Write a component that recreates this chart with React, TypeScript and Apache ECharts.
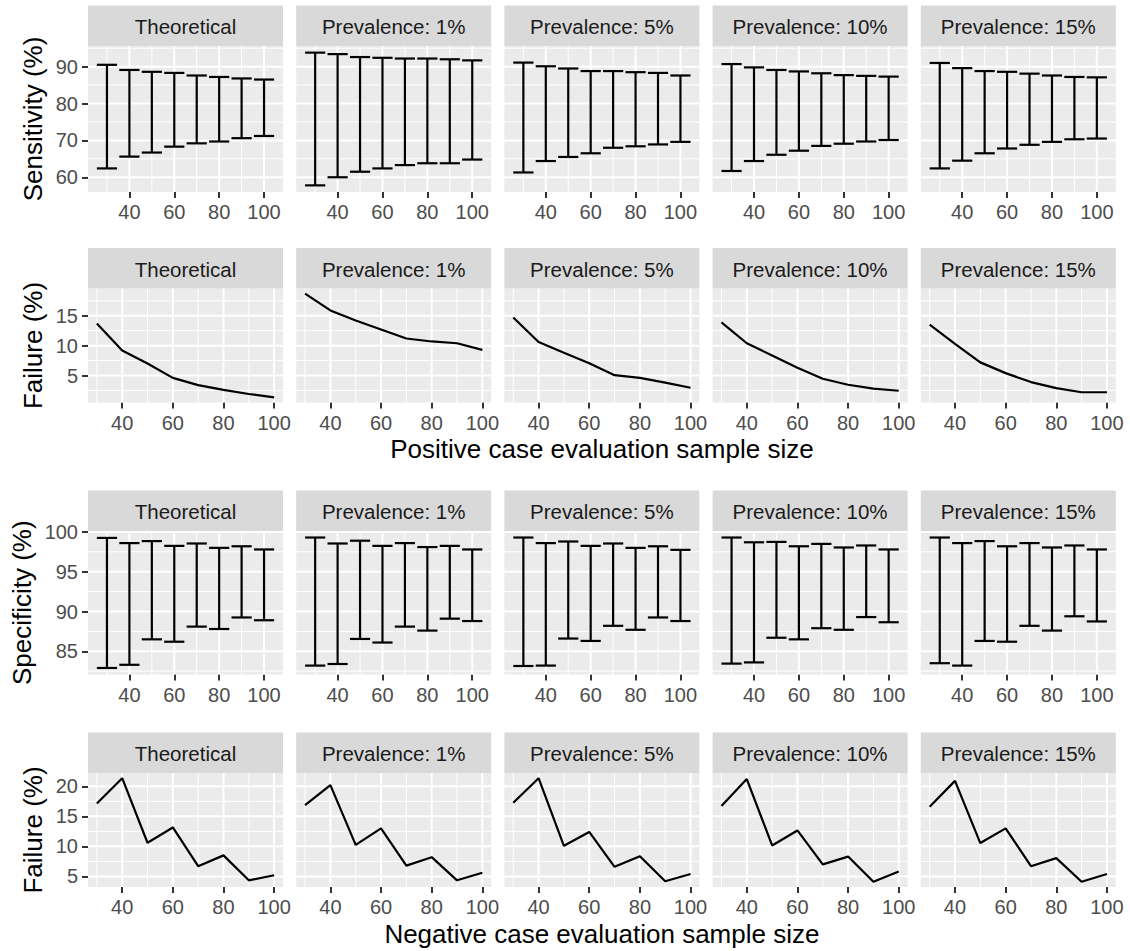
import React, { useEffect, useRef } from 'react';
import * as echarts from 'echarts';

// ---------- data ----------
const sampleSizes = [30, 40, 50, 60, 70, 80, 90, 100];
const panelTitles = ['Theoretical', 'Prevalence: 1%', 'Prevalence: 5%', 'Prevalence: 10%', 'Prevalence: 15%'];
const xTickValues = [40, 60, 80, 100];

// Sensitivity (%) interval bounds, one array per panel
const sensitivityLow = [
  [62.4, 65.6, 66.7, 68.3, 69.2, 69.7, 70.6, 71.2],
  [57.8, 60.0, 61.5, 62.4, 63.3, 63.8, 63.8, 64.8],
  [61.3, 64.4, 65.5, 66.5, 68.0, 68.4, 68.9, 69.6],
  [61.7, 64.4, 66.1, 67.2, 68.5, 69.1, 69.7, 70.1],
  [62.4, 64.5, 66.5, 67.8, 68.8, 69.6, 70.3, 70.5],
];
const sensitivityHigh = [
  [90.5, 89.1, 88.6, 88.3, 87.6, 87.2, 86.8, 86.5],
  [93.8, 93.4, 92.6, 92.4, 92.2, 92.2, 92.0, 91.7],
  [91.1, 90.1, 89.5, 88.8, 88.8, 88.5, 88.3, 87.6],
  [90.7, 89.8, 89.1, 88.7, 88.2, 87.7, 87.5, 87.3],
  [91.0, 89.6, 88.8, 88.6, 88.1, 87.6, 87.2, 87.1],
];
const sensitivityTicks = [60, 70, 80, 90];

// Failure (%) for positive cases
const failurePositive = [
  [13.7, 9.2, 7.0, 4.6, 3.4, 2.6, 1.9, 1.35],
  [18.7, 15.9, 14.2, 12.7, 11.2, 10.7, 10.4, 9.3],
  [14.7, 10.6, 8.8, 7.05, 5.05, 4.6, 3.8, 2.95],
  [13.9, 10.4, 8.35, 6.3, 4.45, 3.45, 2.8, 2.45],
  [13.5, 10.3, 7.2, 5.4, 3.9, 2.9, 2.2, 2.2],
];
const failurePositiveTicks = [5, 10, 15];

// Specificity (%) interval bounds
const specificityLow = [
  [82.9, 83.3, 86.5, 86.2, 88.1, 87.8, 89.25, 88.9],
  [83.2, 83.4, 86.55, 86.1, 88.1, 87.6, 89.1, 88.8],
  [83.15, 83.2, 86.6, 86.3, 88.2, 87.7, 89.25, 88.8],
  [83.45, 83.6, 86.7, 86.5, 87.9, 87.7, 89.3, 88.65],
  [83.5, 83.2, 86.3, 86.2, 88.2, 87.6, 89.4, 88.75],
];
const specificityHigh = [
  [99.25, 98.6, 98.85, 98.25, 98.55, 98.0, 98.2, 97.8],
  [99.3, 98.55, 98.9, 98.25, 98.6, 98.1, 98.25, 97.8],
  [99.3, 98.6, 98.8, 98.25, 98.55, 98.0, 98.2, 97.75],
  [99.3, 98.7, 98.75, 98.2, 98.5, 98.05, 98.3, 97.8],
  [99.3, 98.6, 98.85, 98.2, 98.6, 98.05, 98.3, 97.8],
];
const specificityTicks = [85, 90, 95, 100];

// Failure (%) for negative cases
const failureNegative = [
  [17.15, 21.35, 10.6, 13.15, 6.7, 8.5, 4.35, 5.2],
  [16.85, 20.2, 10.25, 13.0, 6.8, 8.2, 4.35, 5.6],
  [17.25, 21.35, 10.1, 12.4, 6.6, 8.35, 4.2, 5.4],
  [16.7, 21.2, 10.15, 12.65, 7.0, 8.3, 4.1, 5.8],
  [16.6, 20.9, 10.55, 13.0, 6.7, 8.05, 4.1, 5.4],
];
const failureNegativeTicks = [5, 10, 15, 20];

const yTitles = ['Sensitivity (%)', 'Failure (%)', 'Specificity (%)', 'Failure (%)'];
const xTitles = ['Positive case evaluation sample size', 'Negative case evaluation sample size'];

// ---------- layout / style ----------
const FONT = "'Liberation Sans', Arial, Helvetica, sans-serif";
const COL_LEFT = [88, 296.2, 504.4, 712.6, 920.8];
const COL_W = 195;
const STRIP_H = 40.5;
const ROWS = [
  { plotTop: 46, plotH: 146, titleX: 33 },
  { plotTop: 288.5, plotH: 114, titleX: 33 },
  { plotTop: 531, plotH: 143.5, titleX: 22 },
  { plotTop: 773, plotH: 114, titleX: 33 },
];
const CAP_HALF = 4.5; // errorbar width 0.9 * resolution(10) / 2

type RowDef = { kind: 'bar' | 'line'; low?: number[][]; high?: number[][]; vals?: number[][]; ticks: number[] };
const rowDefs: RowDef[] = [
  { kind: 'bar', low: sensitivityLow, high: sensitivityHigh, ticks: sensitivityTicks },
  { kind: 'line', vals: failurePositive, ticks: failurePositiveTicks },
  { kind: 'bar', low: specificityLow, high: specificityHigh, ticks: specificityTicks },
  { kind: 'line', vals: failureNegative, ticks: failureNegativeTicks },
];

function expand(lo: number, hi: number): [number, number] {
  const d = (hi - lo) * 0.05;
  return [lo - d, hi + d];
}

function minorsOf(ticks: number[], lo: number, hi: number): number[] {
  const step = ticks[1] - ticks[0];
  const out: number[] = [];
  for (let v = ticks[0] - step / 2; v <= ticks[ticks.length - 1] + step / 2 + 1e-9; v += step) {
    if (v >= lo && v <= hi) out.push(v);
  }
  return out;
}

function buildOption() {
  const grids: any[] = [];
  const xAxes: any[] = [];
  const yAxes: any[] = [];
  const series: any[] = [];
  const graphics: any[] = [];

  rowDefs.forEach((row, r) => {
    const L = ROWS[r];
    let yLo: number, yHi: number, xLo: number, xHi: number;
    if (row.kind === 'bar') {
      yLo = Math.min(...row.low!.flat());
      yHi = Math.max(...row.high!.flat());
      xLo = sampleSizes[0] - CAP_HALF;
      xHi = sampleSizes[sampleSizes.length - 1] + CAP_HALF;
    } else {
      yLo = Math.min(...row.vals!.flat());
      yHi = Math.max(...row.vals!.flat());
      xLo = sampleSizes[0];
      xHi = sampleSizes[sampleSizes.length - 1];
    }
    const [yMin, yMax] = expand(yLo, yHi);
    const [xMin, xMax] = expand(xLo, xHi);
    const xMinor = minorsOf(xTickValues, xMin, xMax);
    const yMinor = minorsOf(row.ticks, yMin, yMax);

    // y axis title
    graphics.push({
      type: 'text', x: L.titleX, y: L.plotTop + L.plotH / 2, rotation: Math.PI / 2,
      style: { text: yTitles[r], font: `26px ${FONT}`, fill: '#000', textAlign: 'center', textVerticalAlign: 'middle' },
    });

    for (let c = 0; c < 5; c++) {
      const idx = r * 5 + c;
      grids.push({
        left: COL_LEFT[c], top: L.plotTop, width: COL_W, height: L.plotH,
        show: true, backgroundColor: '#EBEBEB', borderWidth: 0,
      });
      xAxes.push({
        type: 'value', gridIndex: idx, min: xMin, max: xMax,
        axisLine: { show: false },
        axisTick: { show: true, customValues: xTickValues, length: 6, lineStyle: { color: '#333333', width: 2 } },
        axisLabel: { show: true, customValues: xTickValues, color: '#4D4D4D', fontSize: 20, fontFamily: FONT, margin: 10 },
        splitLine: { show: false },
      });
      const first = c === 0;
      yAxes.push({
        type: 'value', gridIndex: idx, min: yMin, max: yMax,
        axisLine: { show: false },
        axisTick: { show: first, customValues: row.ticks, length: 6, lineStyle: { color: '#333333', width: 2 } },
        axisLabel: { show: first, customValues: row.ticks, color: '#4D4D4D', fontSize: 20, fontFamily: FONT, margin: 10 },
        splitLine: { show: false },
      });

      // grid lines (major & minor), drawn through the axes' scales
      const gridData: number[][] = [];
      xTickValues.forEach((v) => gridData.push([v, yMin, 0, 1]));
      xMinor.forEach((v) => gridData.push([v, yMin, 0, 0]));
      row.ticks.forEach((v) => gridData.push([xMin, v, 1, 1]));
      yMinor.forEach((v) => gridData.push([xMin, v, 1, 0]));
      series.push({
        type: 'custom', xAxisIndex: idx, yAxisIndex: idx, silent: true, z: 1,
        encode: { x: 0, y: 1 },
        data: gridData,
        renderItem: (params: any, api: any) => {
          const cs = params.coordSys;
          const orient = api.value(2);
          const major = api.value(3);
          const p = api.coord([api.value(0), api.value(1)]);
          const shape = orient === 0
            ? { x1: p[0], y1: cs.y, x2: p[0], y2: cs.y + cs.height }
            : { x1: cs.x, y1: p[1], x2: cs.x + cs.width, y2: p[1] };
          return { type: 'line', shape, style: { stroke: '#FFFFFF', lineWidth: major ? 2 : 1 } };
        },
      });

      if (row.kind === 'bar') {
        const data = sampleSizes.map((x, i) => [x, row.low![c][i], row.high![c][i]]);
        series.push({
          type: 'custom', xAxisIndex: idx, yAxisIndex: idx, z: 3, silent: true,
          encode: { x: 0, y: [1, 2] },
          data,
          renderItem: (params: any, api: any) => {
            const x = api.value(0);
            const lo = api.coord([x, api.value(1)]);
            const hi = api.coord([x, api.value(2)]);
            const left = api.coord([x - CAP_HALF, api.value(1)])[0];
            const right = api.coord([x + CAP_HALF, api.value(1)])[0];
            const st = { stroke: '#000000', lineWidth: 2.2 };
            return {
              type: 'group',
              children: [
                { type: 'line', shape: { x1: lo[0], y1: lo[1], x2: hi[0], y2: hi[1] }, style: st },
                { type: 'line', shape: { x1: left, y1: lo[1], x2: right, y2: lo[1] }, style: st },
                { type: 'line', shape: { x1: left, y1: hi[1], x2: right, y2: hi[1] }, style: st },
              ],
            };
          },
        });
      } else {
        series.push({
          type: 'line', xAxisIndex: idx, yAxisIndex: idx, z: 3, silent: true,
          showSymbol: false, symbol: 'none',
          lineStyle: { color: '#000000', width: 2.2 },
          data: sampleSizes.map((x, i) => [x, row.vals![c][i]]),
        });
      }

      // strip
      graphics.push({
        type: 'rect', shape: { x: COL_LEFT[c], y: L.plotTop - STRIP_H, width: COL_W, height: STRIP_H },
        style: { fill: '#D9D9D9' },
      });
      graphics.push({
        type: 'text', x: COL_LEFT[c] + COL_W / 2, y: L.plotTop - STRIP_H / 2 + 1,
        style: { text: panelTitles[c], font: `20.5px ${FONT}`, fill: '#1A1A1A', textAlign: 'center', textVerticalAlign: 'middle' },
      });
    }
  });

  const centerX = (COL_LEFT[0] + COL_LEFT[4] + COL_W) / 2;
  graphics.push({
    type: 'text', x: centerX, y: 449,
    style: { text: xTitles[0], font: `26px ${FONT}`, fill: '#000', textAlign: 'center', textVerticalAlign: 'middle' },
  });
  graphics.push({
    type: 'text', x: centerX, y: 934,
    style: { text: xTitles[1], font: `26px ${FONT}`, fill: '#000', textAlign: 'center', textVerticalAlign: 'middle' },
  });

  return {
    animation: false,
    backgroundColor: '#FFFFFF',
    grid: grids,
    xAxis: xAxes,
    yAxis: yAxes,
    series,
    graphic: { elements: graphics },
  };
}

export default function App() {
  const ref = useRef<HTMLDivElement>(null);
  useEffect(() => {
    if (!ref.current) return;
    const chart = echarts.init(ref.current, undefined, { renderer: 'svg' });
    chart.setOption(buildOption() as any);
    return () => chart.dispose();
  }, []);
  return <div ref={ref} style={{ position: 'absolute', left: 0, top: 0, width: 1130, height: 951 }} />;
}
